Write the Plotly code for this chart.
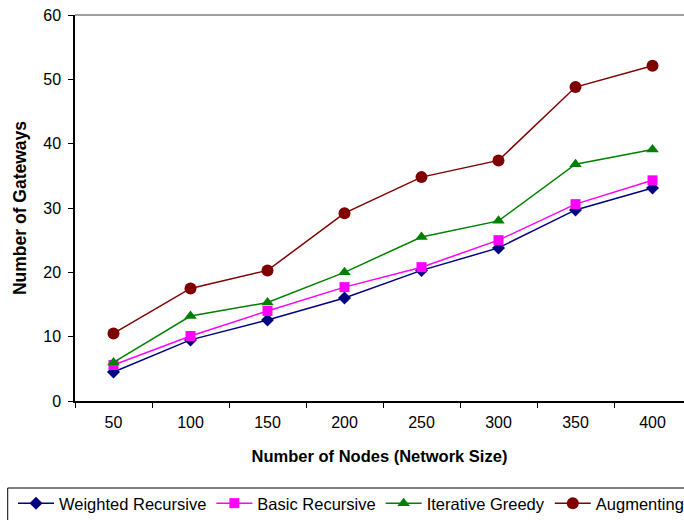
import plotly.graph_objects as go

# Network sizes (x categories)
nodes = ["50", "100", "150", "200", "250", "300", "350", "400"]

# Number of gateways per algorithm
weighted_recursive = [4.5, 9.5, 12.6, 16.0, 20.3, 23.8, 29.7, 33.1]
basic_recursive = [5.6, 10.1, 14.0, 17.7, 20.8, 25.0, 30.6, 34.3]
iterative_greedy = [6.0, 13.2, 15.3, 20.0, 25.5, 28.0, 36.8, 39.1]
augmenting = [10.5, 17.5, 20.3, 29.2, 34.8, 37.4, 48.8, 52.1]

series = [
    ("Weighted Recursive", weighted_recursive, "#000080", "diamond", 10),
    ("Basic Recursive", basic_recursive, "#FF00FF", "square", 10),
    ("Iterative Greedy", iterative_greedy, "#008000", "triangle-up", 11),
    ("Augmenting", augmenting, "#800000", "circle", 12),
]

FONT = "Liberation Sans, Arial, sans-serif"

fig = go.Figure()
for name, vals, color, symbol, size in series:
    fig.add_trace(go.Scatter(
        x=nodes, y=vals, name=name, mode="lines+markers",
        line=dict(color=color, width=1.5),
        marker=dict(symbol=symbol, size=size, color=color, line=dict(width=0)),
    ))

fig.update_layout(
    width=684, height=520,
    margin=dict(l=75, r=0, t=15, b=119, autoexpand=False),
    paper_bgcolor="white", plot_bgcolor="white",
    font=dict(family=FONT, size=16, color="black"),
    showlegend=True,
    legend=dict(
        orientation="h", x=-0.1018, xanchor="left",
        y=-0.22, yanchor="top", itemwidth=36,
        font=dict(size=16.5, family=FONT), borderwidth=0, bgcolor="rgba(0,0,0,0)",
        traceorder="normal",
    ),
    xaxis=dict(
        type="category", range=[-0.5, 7.409],
        showgrid=False, zeroline=False,
        showline=True, linecolor="black", linewidth=1.5,
        ticks="outside", tickson="boundaries", ticklen=5, tickcolor="black",
        ticklabelstandoff=6,
        title=dict(text="<b>Number of Nodes (Network Size)</b>", standoff=20,
                   font=dict(size=16.5)),
    ),
    yaxis=dict(
        range=[0, 60], dtick=10,
        showgrid=False, zeroline=False,
        showline=True, linecolor="black", linewidth=1.5,
        ticks="outside", ticklen=5, tickcolor="black",
        ticklabelstandoff=4,
        title=dict(text="<b>Number of Gateways</b>", standoff=12,
                   font=dict(size=17.5)),
    ),
)

# Plot-area frame along the top edge
fig.add_shape(type="line", xref="paper", yref="paper", x0=0, x1=1.02, y0=1, y1=1,
              line=dict(color="#808080", width=1.5))
# Legend box
fig.add_shape(type="rect", xref="paper", yref="paper",
              x0=-0.1105, x1=1.1, y0=-0.2254, y1=-0.34,
              line=dict(color="black", width=1), fillcolor="rgba(0,0,0,0)")

fig.write_html("out.html")
